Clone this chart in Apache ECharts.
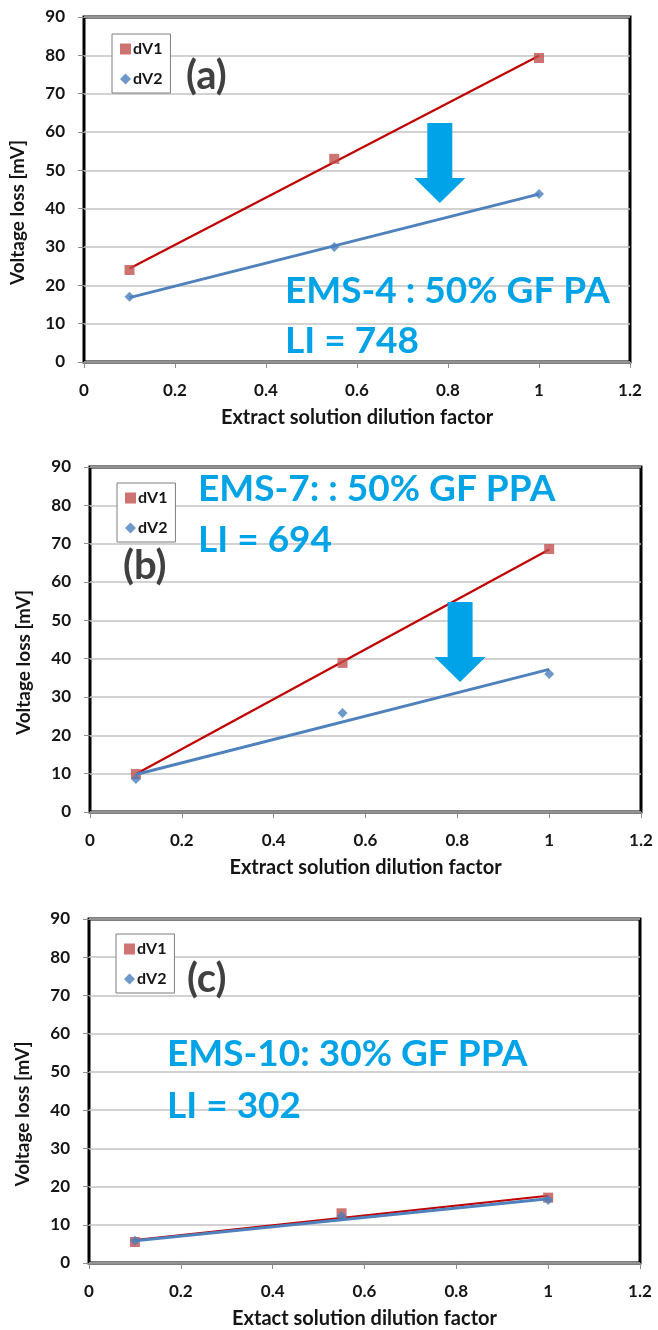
<!DOCTYPE html>
<html><head><meta charset="utf-8">
<script src="https://cdn.jsdelivr.net/npm/echarts@6/dist/echarts.min.js"></script>
<style>html,body{margin:0;padding:0;background:#fff}#c{width:658px;height:1330px}</style>
</head><body><div id="c"></div>
<script>
// ---- data ----
const dilution = [0.1, 0.55, 1];
const dV1_a = [24, 53, 79.3];
const dV2_a = [17, 30, 43.8];
const dV1_b = [9.9, 38.9, 68.6];
const dV2_b = [8.6, 25.8, 36];
const dV1_c = [5.5, 13, 17.1];
const dV2_c = [5.8, 12.2, 16.5];
// linear trend lines (value at x = 0.1 and x = 1)
const trendX = [0.1, 1];
const trendV1_a = [24.4, 79.9];
const trendV2_a = [16.8, 43.8];
const trendV1_b = [9.9, 68.5];
const trendV2_b = [9.8, 37.2];
const trendV1_c = [6.0, 17.6];
const trendV2_c = [5.8, 16.8];
const panelLabels = ['(a)', '(b)', '(c)'];
const annotations = [['EMS-4 : 50% GF PA', 'LI = 748'], ['EMS-7: : 50% GF PPA', 'LI = 694'], ['EMS-10: 30% GF PPA', 'LI = 302']];
const xNames = ['Extract solution dilution factor', 'Extract solution dilution factor', 'Extact solution dilution factor'];
const yName = 'Voltage loss [mV]';
const seriesNames = ['dV1', 'dV2'];

const V1 = [dV1_a, dV1_b, dV1_c], V2 = [dV2_a, dV2_b, dV2_c];
const T1 = [trendV1_a, trendV1_b, trendV1_c], T2 = [trendV2_a, trendV2_b, trendV2_c];

// ---- layout / style ----
const FONT = 'Lato, "Open Sans", sans-serif';
const grids = [
  {left: 84, top: 17, width: 546, height: 345},
  {left: 90, top: 467, width: 551, height: 345},
  {left: 89, top: 919, width: 551, height: 345}
];
const legendPos = [{left: 112, top: 34}, {left: 117, top: 483}, {left: 116, top: 934}];
const labelPos = [{x: 186, y: 76}, {x: 123, y: 566}, {x: 187, y: 979}];
const annoPos = [{x: 285, y1: 291, y2: 341}, {x: 198, y1: 489, y2: 540}, {x: 167, y1: 1054, y2: 1106}];
const arrows = [{panel: 0, tip: [0.782, 41.5]}, {panel: 1, tip: [0.806, 33.9]}];
const BLUE_TXT = '#00A3E6';
const TXT = '#151515';

const chart = echarts.init(document.getElementById('c'));

const xAxis = grids.map((g, i) => ({
  type: 'value', gridIndex: i, min: 0, max: 1.2, interval: 0.2,
  name: xNames[i], nameLocation: 'middle', nameGap: 46,
  nameTextStyle: {fontFamily: FONT, fontWeight: 'bold', fontSize: 20, color: TXT},
  axisLine: {show: false},
  axisTick: {show: true, length: 6, lineStyle: {color: '#8c8c8c', width: 1}},
  axisLabel: {fontFamily: FONT, fontWeight: 'bold', fontSize: 17, color: TXT, margin: 20},
  splitLine: {show: false}
}));
const yAxis = grids.map((g, i) => ({
  type: 'value', gridIndex: i, min: 0, max: 90, interval: 10,
  name: yName, nameLocation: 'middle', nameGap: 57, nameRotate: 90,
  nameTextStyle: {fontFamily: FONT, fontWeight: 'bold', fontSize: 19, color: TXT, padding: [0, 46, 0, 0]},
  axisLine: {show: false},
  axisTick: {show: true, length: 6, lineStyle: {color: '#8c8c8c', width: 1}},
  axisLabel: {fontFamily: FONT, fontWeight: 'bold', fontSize: 17, color: TXT, margin: 19},
  splitLine: {show: true, lineStyle: {color: '#c3c3c3', width: 1.5}}
}));

const series = [];
for (let p = 0; p < 3; p++) {
  series.push({
    type: 'line', name: 'trend dV1', xAxisIndex: p, yAxisIndex: p, silent: true,
    data: trendX.map((x, i) => [x, T1[p][i]]), showSymbol: false, z: 3,
    lineStyle: {color: '#C00000', width: 2.2}
  });
  series.push({
    type: 'scatter', name: seriesNames[0], xAxisIndex: p, yAxisIndex: p,
    data: dilution.map((x, i) => [x, V1[p][i]]), symbol: 'rect', symbolSize: 10, z: 4,
    itemStyle: {color: '#C0504D'}
  });
  series.push({
    type: 'line', name: 'trend dV2', xAxisIndex: p, yAxisIndex: p, silent: true,
    data: trendX.map((x, i) => [x, T2[p][i]]), showSymbol: false, z: 5,
    lineStyle: {color: '#4F81BD', width: 3}
  });
  series.push({
    type: 'scatter', name: seriesNames[1], xAxisIndex: p, yAxisIndex: p,
    data: dilution.map((x, i) => [x, V2[p][i]]), symbol: 'diamond', symbolSize: 10, z: 6,
    itemStyle: {color: '#4A7EBB'}
  });
}

const legend = legendPos.map(lp => ({
  left: lp.left, top: lp.top, orient: 'vertical', data: seriesNames, selectedMode: false,
  backgroundColor: '#fff', borderColor: '#7f7f7f', borderWidth: 1, borderRadius: 0,
  padding: [6, 8, 5, 8], itemGap: 12, itemWidth: 11, itemHeight: 11,
  textStyle: {fontFamily: FONT, fontWeight: 'bold', fontSize: 16, lineHeight: 18, color: TXT, padding: [0, 0, 0, -3]}
}));

const graphicTexts = [];
for (let p = 0; p < 3; p++) {
  graphicTexts.push({
    type: 'text', x: labelPos[p].x, y: labelPos[p].y, z: 100,
    style: {text: panelLabels[p], font: 'bold 40px ' + FONT, fill: '#404040', verticalAlign: 'middle', align: 'left'}
  });
  graphicTexts.push({
    type: 'text', x: annoPos[p].x, y: annoPos[p].y1, z: 100,
    style: {text: annotations[p][0], font: 'bold 37px ' + FONT, fill: BLUE_TXT, verticalAlign: 'middle', align: 'left'}
  });
  graphicTexts.push({
    type: 'text', x: annoPos[p].x, y: annoPos[p].y2, z: 100,
    style: {text: annotations[p][1], font: 'bold 37px ' + FONT, fill: BLUE_TXT, verticalAlign: 'middle', align: 'left'}
  });
}

chart.setOption({
  animation: false,
  backgroundColor: '#fff',
  grid: grids.map(g => Object.assign({show: true, borderColor: '#000', borderWidth: 3, backgroundColor: 'transparent'}, g)),
  xAxis, yAxis, series, legend,
  graphic: graphicTexts
});

// block arrows (annotation), placed at data-space tips
const arrowGraphics = arrows.map(a => {
  const [tx, ty] = chart.convertToPixel({gridIndex: a.panel}, a.tip);
  const shaftHalf = 12.5, headHalf = 25.5, headLen = 25, totalLen = 80;
  return {
    type: 'polygon', z: 90,
    shape: {points: [
      [tx - shaftHalf, ty - totalLen], [tx + shaftHalf, ty - totalLen],
      [tx + shaftHalf, ty - headLen], [tx + headHalf, ty - headLen],
      [tx, ty], [tx - headHalf, ty - headLen], [tx - shaftHalf, ty - headLen]
    ]},
    style: {fill: '#00A2E8'}
  };
});
chart.setOption({graphic: graphicTexts.concat(arrowGraphics)});
</script>
</body></html>
